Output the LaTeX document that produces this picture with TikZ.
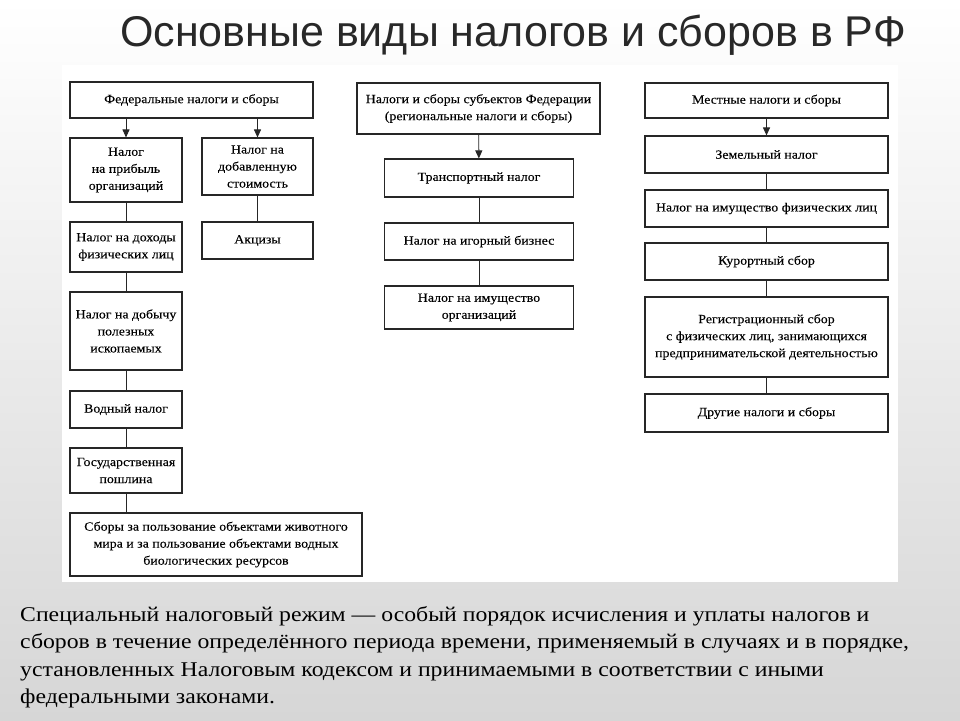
\documentclass[tikz,border=0pt]{standalone}
\usepackage{fontspec}
\setmainfont{Liberation Serif}
\newfontfamily\titlefont{Liberation Sans}
\newfontfamily\boxfont[FakeStretch=1.11, FakeBold=0.12]{Liberation Serif}
\newfontfamily\deffont[FakeStretch=1.13]{Liberation Serif}
\usetikzlibrary{arrows.meta}

\definecolor{slidegray}{RGB}{214,214,214}
\definecolor{titlegray}{RGB}{40,40,40}

\begin{document}
\begin{tikzpicture}[x=1pt, y=-1pt,
		box/.style={draw=black!85, line width=1.1pt, fill=white, inner sep=2pt,
			align=center, font=\boxfont\fontsize{12.5}{17}\selectfont},
		link/.style={draw=black!85, line width=0.9pt},
		arr/.style={link, -{Triangle[length=8pt, width=7pt]}}]

	% slide
	\shade[top color=white, bottom color=slidegray] (0,0) rectangle (960,720);
	\useasboundingbox (0,0) rectangle (960,720);
	\fill[white] (62,65) rectangle (898,582);

	\node[anchor=base west, font=\titlefont\fontsize{43}{48}\selectfont, text=titlegray, inner sep=0]
		(title) at (120,46) {Основные виды налогов и сборов в РФ};

	% federal
	\node[box, minimum width=243, minimum height=36] (fed) at (191.5,100) {Федеральные налоги и сборы};
	\node[box, minimum width=112, minimum height=64] (prib) at (126,170) {Налог\\на прибыль\\организаций};
	\node[box, minimum width=111, minimum height=57] (nds) at (257.5,166.5) {Налог на\\добавленную\\стоимость};
	\node[box, minimum width=111, minimum height=37] (akciz) at (257.5,240.5) {Акцизы};
	\node[box, minimum width=112, minimum height=50] (ndfl) at (126,247) {Налог на доходы\\физических лиц};
	\node[box, minimum width=112, minimum height=78] (dob) at (126,331) {Налог на добычу\\полезных\\ископаемых};
	\node[box, minimum width=112, minimum height=37] (vod) at (126,409.5) {Водный налог};
	\node[box, minimum width=112, minimum height=45] (gos) at (126,470.5) {Государственная\\пошлина};
	\node[box, minimum width=292, minimum height=63] (sbor) at (216,544.5)
		{Сборы за пользование объектами животного\\мира и за пользование объектами водных\\биологических ресурсов};

	\draw[arr] (prib.north |- fed.south) -- (prib.north);
	\draw[arr] (nds.north |- fed.south) -- (nds.north);
	\draw[link] (nds) -- (akciz);
	\draw[link] (prib) -- (ndfl);
	\draw[link] (ndfl) -- (dob);
	\draw[link] (dob) -- (vod);
	\draw[link] (vod) -- (gos);
	\draw[link] (gos.south) -- (gos.south |- sbor.north);

	% regional
	\node[box, minimum width=243, minimum height=51] (reg) at (478.5,108.5)
		{Налоги и сборы субъектов Федерации\\(региональные налоги и сборы)};
	\node[box, minimum width=189, minimum height=38] (transp) at (479,178) {Транспортный налог};
	\node[box, minimum width=189, minimum height=37] (igor) at (479,241.5) {Налог на игорный бизнес};
	\node[box, minimum width=189, minimum height=43] (imorg) at (479,307.5) {Налог на имущество\\организаций};

	\draw[arr] (reg) -- (transp);
	\draw[link] (transp) -- (igor);
	\draw[link] (igor) -- (imorg);

	% local
	\node[box, minimum width=243, minimum height=35] (mest) at (766.5,100.5) {Местные налоги и сборы};
	\node[box, minimum width=243, minimum height=37] (zem) at (766.5,154.5) {Земельный налог};
	\node[box, minimum width=243, minimum height=37] (imfiz) at (766.5,208.5) {Налог на имущество физических лиц};
	\node[box, minimum width=243, minimum height=37] (kur) at (766.5,261.5) {Курортный сбор};
	\node[box, minimum width=243, minimum height=80] (regsb) at (766.5,337)
		{Регистрационный сбор\\с физических лиц, занимающихся\\предпринимательской деятельностью};
	\node[box, minimum width=243, minimum height=38] (drug) at (766.5,413) {Другие налоги и сборы};

	\draw[arr] (mest) -- (zem);
	\draw[link] (zem) -- (imfiz);
	\draw[link] (imfiz) -- (kur);
	\draw[link] (kur) -- (regsb);
	\draw[link] (regsb) -- (drug);

	% definition
	\node[anchor=north west, align=left, inner sep=0, font=\deffont\fontsize{21}{27.5}\selectfont] (def) at (20,606)
		{Специальный налоговый режим — особый порядок исчисления и уплаты налогов и\\
		 сборов в течение определённого периода времени, применяемый в случаях и в порядке,\\
		 установленных Налоговым кодексом и принимаемыми в соответствии с иными\\
		 федеральными законами.};
\end{tikzpicture}
\end{document}
